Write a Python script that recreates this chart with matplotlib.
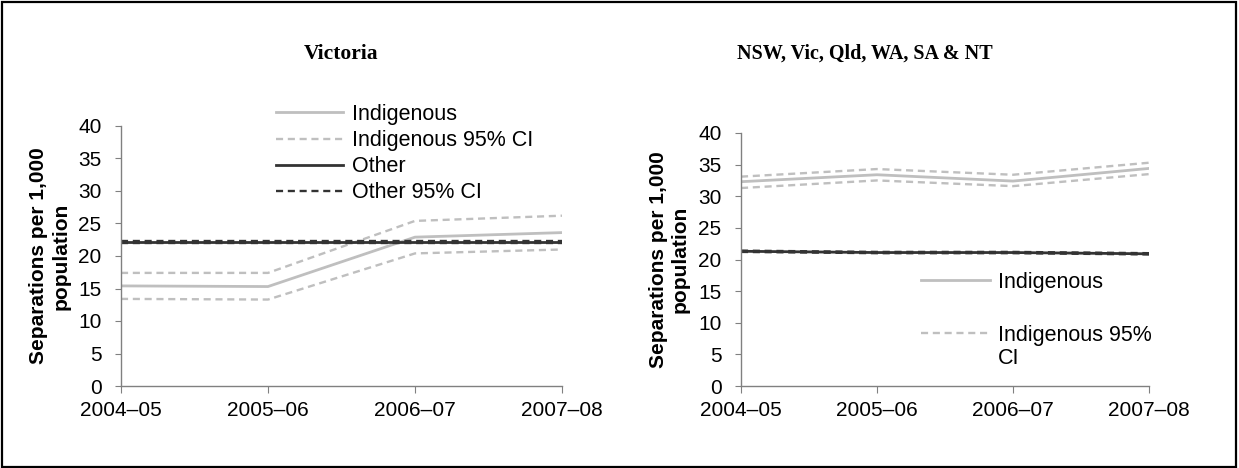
import numpy as np
import matplotlib
matplotlib.use("Agg")
import matplotlib.pyplot as plt
from matplotlib.lines import Line2D
from matplotlib.patches import Rectangle

plt.rcParams['font.family'] = ['Liberation Sans', 'DejaVu Sans']

years = ["2004–05", "2005–06", "2006–07", "2007–08"]

# Victoria
vic_indig = [15.4, 15.3, 22.9, 23.6]
vic_indig_hi = [17.4, 17.4, 25.4, 26.2]
vic_indig_lo = [13.4, 13.3, 20.4, 21.0]
vic_other = [22.2, 22.2, 22.2, 22.2]
vic_other_hi = [22.35, 22.35, 22.35, 22.35]
vic_other_lo = [22.05, 22.05, 22.05, 22.05]

# NSW, Vic, Qld, WA, SA & NT
all_indig = [32.3, 33.4, 32.4, 34.4]
all_indig_hi = [33.1, 34.3, 33.4, 35.3]
all_indig_lo = [31.3, 32.5, 31.6, 33.5]
all_other = [21.3, 21.1, 21.1, 20.9]
all_other_hi = [21.4, 21.2, 21.2, 21.0]
all_other_lo = [21.2, 21.0, 21.0, 20.8]

LIGHT = '#bfbfbf'
DARK = '#333333'
DASH = (0, (3, 2))
W, H = 1239, 468
FS = 15

fig = plt.figure(figsize=(W / 100, H / 100), dpi=100)
ax1 = fig.add_axes([121 / W, 1 - 386 / H, (562 - 121) / W, (386 - 126) / H])
ax2 = fig.add_axes([741 / W, 1 - 386 / H, (1149 - 741) / W, (386 - 133) / H])


def draw(ax, ind, ind_hi, ind_lo, oth, oth_hi, oth_lo):
    x = np.arange(len(years))
    ax.plot(x, ind, color=LIGHT, lw=2.0, label='Indigenous')
    ax.plot(x, ind_hi, color=LIGHT, lw=1.7, ls=DASH, label='Indigenous 95% CI')
    ax.plot(x, ind_lo, color=LIGHT, lw=1.7, ls=DASH)
    ax.plot(x, oth, color=DARK, lw=2.0, label='Other')
    ax.plot(x, oth_hi, color=DARK, lw=1.7, ls=DASH, label='Other 95% CI')
    ax.plot(x, oth_lo, color=DARK, lw=1.7, ls=DASH)
    ax.set_xlim(0, 3)
    ax.set_ylim(0, 40)
    ax.set_xticks(x)
    ax.set_xticklabels(years)
    ax.set_yticks(np.arange(0, 41, 5))
    for s in ['top', 'right']:
        ax.spines[s].set_visible(False)
    for s in ['left', 'bottom']:
        ax.spines[s].set_color('#808080')
        ax.spines[s].set_linewidth(1.0)
    ax.tick_params(axis='x', direction='out', length=5, color='#808080', pad=6, labelsize=FS)
    ax.tick_params(axis='y', direction='out', length=4, color='#808080', pad=10, labelsize=FS)
    ax.set_ylabel('Separations per 1,000\npopulation', fontsize=15, fontweight='bold',
                  linespacing=1.2)


draw(ax1, vic_indig, vic_indig_hi, vic_indig_lo, vic_other, vic_other_hi, vic_other_lo)
draw(ax2, all_indig, all_indig_hi, all_indig_lo, all_other, all_other_hi, all_other_lo)
ax1.yaxis.set_label_coords(-0.115, 0.5)
ax2.yaxis.set_label_coords(-0.125, 0.5)

# legends
ax1.legend(loc='upper left', bbox_to_anchor=(276 / W, 1 - 104 / H), bbox_transform=fig.transFigure,
           frameon=False, fontsize=15.5, handlelength=3.1, handletextpad=0.42,
           labelspacing=0.24, borderpad=0, borderaxespad=0)

h_ind = Line2D([], [], color=LIGHT, lw=2.0)
h_ci = Line2D([], [], color=LIGHT, lw=1.7, ls=DASH)
h_none = Line2D([], [], color='none')
leg1 = ax2.legend([h_ind], ['Indigenous'], loc='upper left',
                  bbox_to_anchor=(921 / W, 1 - 272 / H), bbox_transform=fig.transFigure,
                  frameon=False, fontsize=15.5, handlelength=3.2, handletextpad=0.36,
                  borderpad=0, borderaxespad=0)
ax2.add_artist(leg1)
ax2.legend([h_ci, h_none], ['Indigenous 95%', 'CI'], loc='upper left',
           bbox_to_anchor=(921 / W, 1 - 325 / H), bbox_transform=fig.transFigure,
           frameon=False, fontsize=15.5, handlelength=3.2, handletextpad=0.36,
           labelspacing=0.1, borderpad=0, borderaxespad=0)

# titles
fig.text(341 / W, 1 - 54 / H, 'Victoria', ha='center', va='center',
         family='Liberation Serif', fontweight='bold', fontsize=15.5)
fig.text(865 / W, 1 - 54 / H, 'NSW, Vic, Qld, WA, SA & NT', ha='center', va='center',
         family='Liberation Serif', fontweight='bold', fontsize=14.5)

# outer frame
fig.patches.append(Rectangle((1.5 / W, 1.5 / H), (1236 - 1.5) / W, (466 - 1.5) / H,
                             transform=fig.transFigure, fill=False, lw=1.6, ec='black'))

fig.savefig('out.png', dpi=100)
